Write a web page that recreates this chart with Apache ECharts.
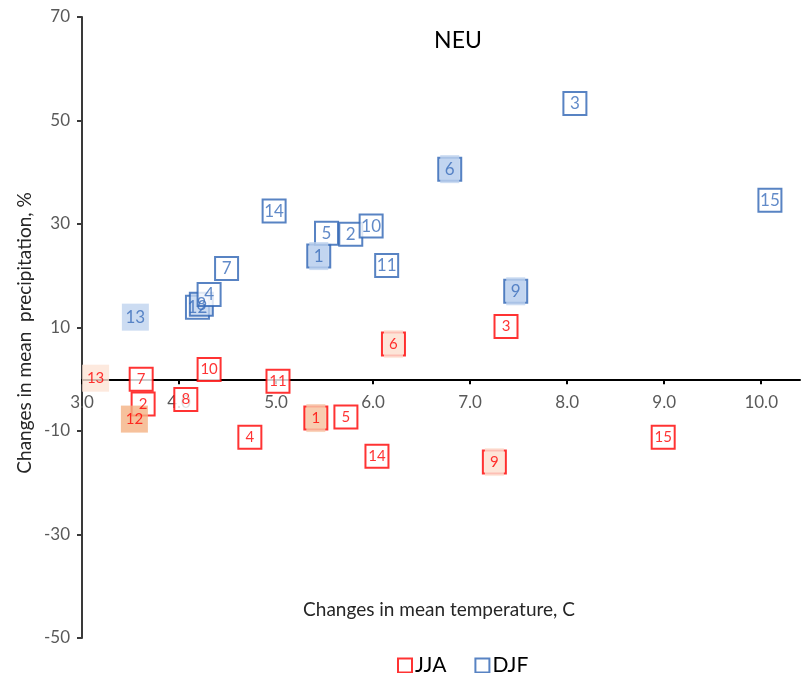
<!DOCTYPE html>
<html><head><meta charset="utf-8">
<script src="https://cdn.jsdelivr.net/npm/echarts@6/dist/echarts.min.js"></script>
<style>html,body{margin:0;padding:0;background:#fff}#c{width:802px;height:673px}</style>
</head><body><div id="c"></div>
<script>
// ---- data ----
const pointIds   = [1, 2, 3, 4, 5, 6, 7, 8, 9, 10, 11, 12, 13, 14, 15];
const djfTemp    = [5.44, 5.77, 8.08, 4.31, 5.52, 6.79, 4.49, 4.23, 7.47, 5.98, 6.14, 4.19, 3.55, 4.98, 10.09];
const djfPrecip  = [23.8, 28.0, 53.3, 16.4, 28.2, 40.6, 21.4, 14.5, 17.0, 29.6, 22.0, 13.9, 12.0, 32.5, 34.6];
const jjaTemp    = [5.41, 3.63, 7.37, 4.73, 5.72, 6.21, 3.61, 4.07, 7.25, 4.31, 5.02, 3.54, 3.14, 6.04, 8.99];
const jjaPrecip  = [-7.5, -4.8, 10.2, -11.2, -7.3, 6.8, 0.0, -3.9, -16.0, 1.9, -0.4, -7.7, 0.2, -14.9, -11.2];
const xTickValues = [3, 4, 5, 6, 7, 8, 9, 10];
const yTickValues = [-50, -30, -10, 10, 30, 50, 70];
const seriesNames = ['JJA', 'DJF'];

// ---- styles ----
const FONT = 'Lato, "Open Sans", "Noto Sans", sans-serif';
const RED = '#FF0000', BLUE = '#2E64B4';
const djfStyle = {
  color: BLUE, text: '#3A6DBA', textSize: 17,
  fills: {1: '#BFD3EF', 6: '#BFD3EF', 9: '#BFD3EF', 8: '#BFD3EF', 13: '#BFD3EF'},
  noBorder: [13], bracket: [1, 6, 9], order: [13,12,8,4,7,14,1,5,2,10,11,6,9,3,15]
};
const jjaStyle = {
  color: RED, text: '#FF0000', textSize: 15,
  fills: {1: '#F8CBAD', 6: '#FCE4D6', 9: '#FCE4D6', 12: '#F4B183', 13: '#FCE4D6'},
  noBorder: [12, 13], bracket: [1, 6, 9], order: pointIds
};

function boxData(temps, precs, st) {
  return st.order.map(id => {
    const i = pointIds.indexOf(id);
    const fill = st.fills[id] || '#FFFFFF';
    const nb = st.noBorder.includes(id);
    return {
      value: [temps[i], precs[i]],
      symbolSize: nb ? 27 : 23,
      itemStyle: nb ? {color: fill, borderWidth: 0} : {color: fill, borderColor: st.color, borderWidth: 2}
    };
  });
}
function coverData(temps, precs, st) {
  return st.bracket.map(id => {
    const i = pointIds.indexOf(id);
    return {value: [temps[i], precs[i]], itemStyle: {color: st.fills[id]}};
  });
}
function labelData(temps, precs) {
  return pointIds.map((id, i) => [temps[i], precs[i], id]);
}

const chart = echarts.init(document.getElementById('c'), null, {renderer: 'canvas'});
function makeSeries(name, temps, precs, st, z) {
  return [
    {name: name, type: 'scatter', symbol: 'rect', z: z, data: boxData(temps, precs, st),
     emphasis: {disabled: true}, silent: true},
    {name: name + '_cover', type: 'scatter', symbol: 'rect', symbolSize: [19, 28], z: z + 1,
     data: coverData(temps, precs, st), emphasis: {disabled: true}, silent: true},
    {name: name + '_labels', type: 'scatter', symbol: 'rect', symbolSize: 1, z: z + 2,
     itemStyle: {color: 'rgba(0,0,0,0)'}, data: labelData(temps, precs), emphasis: {disabled: true}, silent: true,
     label: {show: true, position: 'inside', formatter: p => String(p.value[2]),
             color: st.text, fontSize: st.textSize, fontFamily: FONT}}
  ];
}

const option = {
  animation: false,
  backgroundColor: '#FFFFFF',
  grid: {left: 82, right: 2, top: 17, bottom: 35},
  xAxis: {
    type: 'value', min: 3, max: 10.4, offset: 0,
    axisLine: {onZero: false, lineStyle: {color: '#000000', width: 2}},
    axisTick: {show: true, length: 5, customValues: xTickValues, lineStyle: {color: '#000000', width: 2}},
    axisLabel: {customValues: xTickValues, formatter: v => Number(v).toFixed(1), color: '#595959',
                fontSize: 17, fontFamily: FONT, margin: 15},
    splitLine: {show: false}
  },
  yAxis: {
    type: 'value', min: -50, max: 70,
    axisLine: {show: true, onZero: false, lineStyle: {color: '#3A3A3A', width: 2}},
    axisTick: {show: true, length: 5, customValues: yTickValues, lineStyle: {color: '#3A3A3A', width: 2}},
    axisLabel: {customValues: yTickValues, color: '#595959', fontSize: 17, fontFamily: FONT, margin: 12},
    splitLine: {show: false}
  },
  legend: {
    data: [
      {name: 'JJA', icon: 'rect', itemStyle: {color: '#FFFFFF', borderColor: RED, borderWidth: 2}},
      {name: 'DJF', icon: 'rect', itemStyle: {color: '#FFFFFF', borderColor: BLUE, borderWidth: 2}}
    ],
    left: 392, top: 650, itemWidth: 14, itemHeight: 14, itemGap: 28,
    textStyle: {color: '#000000', fontSize: 21, fontFamily: FONT, padding: [0, 0, 0, -2]}, selectedMode: false
  },
  graphic: [
    {type: 'text', x: 458, y: 41, style: {text: 'NEU', fill: '#000000', font: '23px ' + FONT,
      textAlign: 'center', textVerticalAlign: 'middle'}},
    {type: 'text', x: 439, y: 610, style: {text: 'Changes in mean temperature, C', fill: '#262626',
      font: '19px ' + FONT, textAlign: 'center', textVerticalAlign: 'middle'}},
    {type: 'text', x: 25, y: 333, rotation: Math.PI / 2, style: {text: 'Changes in mean  precipitation, %',
      fill: '#262626', font: '19px ' + FONT, textAlign: 'center', textVerticalAlign: 'middle'}}
  ],
  series: [].concat(
    makeSeries(seriesNames[1], djfTemp, djfPrecip, djfStyle, 2),
    makeSeries(seriesNames[0], jjaTemp, jjaPrecip, jjaStyle, 6)
  )
};
chart.setOption(option);
// move the x axis (line, ticks, labels) to precipitation = 0 using the library's own scale
const yZero = chart.convertToPixel({yAxisIndex: 0}, 0);
const yBottom = chart.convertToPixel({yAxisIndex: 0}, option.yAxis.min);
chart.setOption({xAxis: {offset: yZero - yBottom}});
</script></body></html>
